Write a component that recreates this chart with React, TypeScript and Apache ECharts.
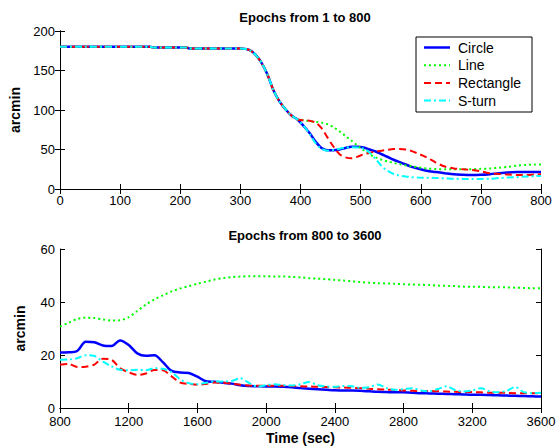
import React, { useEffect, useRef } from "react";
import * as echarts from "echarts";

const seriesNames = ["Circle", "Line", "Rectangle", "S-turn"];
const seriesColors = ["#0000ff", "#00ff00", "#ff0000", "#00ffff"];

const topTitle = "Epochs from 1 to 800";
const bottomTitle = "Epochs from 800 to 3600";

// Top panel: common part (all four series overlap)
const topCommonX = [0, 150, 155, 210, 215, 300, 315, 325, 335, 345, 355, 365, 375, 385, 395];
const topCommonY = [180, 180, 179, 179, 178, 178, 176, 170, 160, 145, 125, 111, 101, 93, 88];

// Top panel: diverging part
const topX = [405, 415, 425, 435, 445, 455, 465, 475, 485, 495, 505, 515, 525, 535, 545, 555, 565, 575, 585, 595, 610, 625, 640, 655, 670, 685, 700, 715, 730, 745, 760, 775, 790, 800];
const topCircle = [80, 71, 60, 52, 49, 49, 50, 52, 53.5, 53.5, 52.5, 50, 47.5, 44, 40.5, 37, 34, 31, 28, 26, 23, 21.5, 20, 18.6, 18, 17.7, 18, 18.8, 20, 21, 21.5, 21.5, 21.5, 21.5];
const topLine = [87, 86, 85, 84, 82, 78, 73, 67, 61, 55, 49, 44, 40, 37, 35, 33, 31.5, 30, 29, 27.5, 26, 25.3, 25, 25, 25, 25, 25.5, 26, 27, 28, 29.5, 30.5, 31, 31];
const topRect = [87, 86.5, 84, 77, 65, 53.5, 44, 40, 38.8, 41, 44, 46, 47.5, 48.5, 49.5, 50.5, 50.5, 50, 48, 45, 40, 33.5, 28.5, 26, 25, 24, 22.5, 20, 19, 18.3, 17.8, 17.8, 18.3, 18.6];
const topSturn = [80, 70, 58, 51, 48.5, 49.5, 51, 52.5, 53, 52.5, 51, 46, 38, 29, 23, 19, 17, 15.8, 15, 14.5, 14.3, 14, 13.5, 13, 12.8, 12.7, 12.7, 13, 13.8, 14.5, 15, 15.8, 16.3, 16.5];

// Bottom panel
const botX = [800, 850, 900, 950, 1000, 1050, 1100, 1150, 1200, 1250, 1300, 1350, 1400, 1450, 1500, 1550, 1600, 1650, 1700, 1750, 1800, 1850, 1900, 1950, 2000, 2050, 2100, 2150, 2200, 2250, 2300, 2350, 2400, 2450, 2500, 2550, 2600, 2650, 2700, 2750, 2800, 2850, 2900, 2950, 3000, 3050, 3100, 3150, 3200, 3250, 3300, 3350, 3400, 3450, 3500, 3550, 3600];
const botCircle = [20.9, 21, 21.5, 25, 24.8, 23.6, 23.4, 25.5, 23.8, 20.6, 19.7, 19.9, 17.2, 14, 13.4, 13.2, 11.8, 10.1, 9.9, 9.5, 9.2, 8.6, 8.3, 8.2, 8.1, 8.1, 8, 7.8, 7.5, 7.3, 7.1, 6.9, 6.7, 6.6, 6.6, 6.5, 6.3, 6.1, 6, 5.9, 5.9, 5.8, 5.6, 5.5, 5.4, 5.3, 5.2, 5.1, 5, 5, 4.9, 4.8, 4.7, 4.6, 4.5, 4.4, 4.3];
const botLine = [30.7, 32.2, 33.6, 34.1, 34, 33.4, 33, 33.1, 34.3, 36.6, 39, 41, 42.5, 44, 45.1, 46, 46.9, 47.7, 48.5, 49, 49.4, 49.6, 49.7, 49.7, 49.7, 49.6, 49.6, 49.5, 49.3, 49, 48.8, 48.6, 48.3, 48.1, 47.8, 47.5, 47.3, 47.1, 47, 46.9, 46.7, 46.6, 46.5, 46.4, 46.2, 46.1, 46, 45.8, 45.8, 45.7, 45.6, 45.6, 45.5, 45.4, 45.3, 45.2, 45.2];
const botRect = [16.3, 16.6, 15.5, 15.6, 16.4, 18.6, 18.2, 15, 13.5, 12.5, 13, 14.3, 14.2, 11.9, 9.6, 9.1, 8.8, 9.1, 9.6, 9.5, 9.2, 8.8, 8.5, 8.4, 8.4, 8.4, 8.4, 8.3, 8.2, 8.1, 8, 7.9, 7.8, 7.7, 7.6, 7.5, 7.3, 7.1, 6.9, 6.8, 6.6, 6.5, 6.4, 6.4, 6.3, 6.2, 6.1, 6, 6, 5.9, 5.8, 5.8, 5.7, 5.6, 5.6, 5.6, 5.6];
const botSturn = [18.2, 18.3, 18.8, 19.9, 19.6, 17.5, 15.7, 14.4, 14.2, 14.4, 14.2, 15, 14.8, 13.5, 10.8, 9.4, 9, 9.5, 10, 10, 10.2, 11.2, 9.5, 8.1, 8.6, 9, 8.6, 8.5, 9, 9.8, 8.6, 8.1, 8, 8.3, 8.2, 7.6, 7.8, 8.9, 7.5, 6.9, 7.1, 7.5, 6.6, 6.3, 7.2, 8.2, 6.8, 6.2, 6.6, 7.5, 6.3, 5.9, 6.5, 7.9, 6, 5.6, 5.8];

const lineStyles: any[] = [
  { width: 2.5, type: "solid" },
  { width: 2, type: [2, 3] },
  { width: 2, type: [7, 4] },
  { width: 2, type: [7, 3, 2, 3] },
];
const legendDash: any[] = [null, [2, 3], [7, 4], [7, 3, 2, 3]];

const FONT = "Liberation Sans, Arial, Helvetica, sans-serif";

export default function App() {
  const ref = useRef<HTMLDivElement>(null);
  useEffect(() => {
    if (!ref.current) return;
    const chart = echarts.init(ref.current, null, { renderer: "svg" });

    const topSeriesVals = [topCircle, topLine, topRect, topSturn];
    const botSeriesVals = [botCircle, botLine, botRect, botSturn];

    const series: any[] = [];
    seriesNames.forEach((name, i) => {
      const common = topCommonX.map((x, k) => [x, topCommonY[k]]);
      const rest = topX.map((x, k) => [x, topSeriesVals[i][k]]);
      series.push({
        name,
        type: "line",
        xAxisIndex: 0,
        yAxisIndex: 0,
        data: common.concat(rest),
        showSymbol: false,
        symbol: "none",
        smooth: 0.3,
        lineStyle: { color: seriesColors[i], ...lineStyles[i] },
        z: 2 + i,
      });
    });
    seriesNames.forEach((name, i) => {
      series.push({
        name,
        type: "line",
        xAxisIndex: 2,
        yAxisIndex: 2,
        data: botX.map((x, k) => [x, botSeriesVals[i][k]]),
        showSymbol: false,
        symbol: "none",
        smooth: 0.3,
        lineStyle: { color: seriesColors[i], ...lineStyles[i] },
        z: 2 + i,
      });
    });

    const axisCommon = {
      axisLine: { show: true, lineStyle: { color: "#000", width: 1 } },
      axisTick: { show: true, inside: true, length: 5, lineStyle: { color: "#000" } },
      splitLine: { show: false },
    };
    const labelStyle = {
      show: true,
      color: "#000",
      fontSize: 13,
      fontFamily: FONT,
      formatter: (v: number) => String(v),
    };
    const nameStyle = { fontSize: 14, fontWeight: "bold", color: "#000", fontFamily: FONT };
    const titleStyle = { fontSize: 13, fontWeight: "bold", color: "#000", fontFamily: FONT };

    const legendItems: any[] = [
      {
        type: "rect",
        shape: { x: 416, y: 37, width: 116, height: 75 },
        style: { fill: "#fff", stroke: "#000", lineWidth: 1 },
        z: 100,
      },
    ];
    seriesNames.forEach((name, i) => {
      const y = 47.5 + i * 17.7;
      legendItems.push({
        type: "line",
        shape: { x1: 424, y1: y, x2: 450, y2: y },
        style: {
          stroke: seriesColors[i],
          lineWidth: lineStyles[i].width,
          lineDash: legendDash[i],
        },
        z: 101,
      });
      legendItems.push({
        type: "text",
        x: 458,
        y: y,
        style: {
          text: name,
          fill: "#000",
          fontSize: 14,
          fontFamily: FONT,
          verticalAlign: "middle",
        },
        z: 101,
      });
    });

    chart.setOption({
      animation: false,
      backgroundColor: "#fff",
      title: [
        { text: topTitle, left: 300, top: 6, textAlign: "center", textStyle: titleStyle },
        { text: bottomTitle, left: 300, top: 224, textAlign: "center", textStyle: titleStyle },
      ],
      grid: [
        { left: 60, top: 31, width: 481, height: 158, containLabel: false },
        { left: 60, top: 249, width: 481, height: 159, containLabel: false },
      ],
      xAxis: [
        {
          type: "value", gridIndex: 0, min: 0, max: 800, interval: 100, position: "bottom",
          ...axisCommon, axisLabel: { ...labelStyle, margin: 5 },
        },
        {
          type: "value", gridIndex: 0, min: 0, max: 800, interval: 100, position: "top",
          ...axisCommon, axisLabel: { show: false },
        },
        {
          type: "value", gridIndex: 1, min: 800, max: 3600, interval: 400, position: "bottom",
          ...axisCommon, axisLabel: { ...labelStyle, margin: 7 },
          name: "Time (sec)", nameLocation: "middle", nameGap: 23,
          nameTextStyle: nameStyle,
        },
        {
          type: "value", gridIndex: 1, min: 800, max: 3600, interval: 400, position: "top",
          ...axisCommon, axisLabel: { show: false },
        },
      ],
      yAxis: [
        {
          type: "value", gridIndex: 0, min: 0, max: 200, interval: 50, position: "left",
          ...axisCommon, axisLabel: { ...labelStyle, margin: 5 },
          name: "arcmin", nameLocation: "middle", nameGap: 33, nameRotate: 90,
          nameTextStyle: nameStyle,
        },
        {
          type: "value", gridIndex: 0, min: 0, max: 200, interval: 50, position: "right",
          ...axisCommon, axisLabel: { show: false },
        },
        {
          type: "value", gridIndex: 1, min: 0, max: 60, interval: 20, position: "left",
          ...axisCommon, axisLabel: { ...labelStyle, margin: 5 },
          name: "arcmin", nameLocation: "middle", nameGap: 33, nameRotate: 90,
          nameTextStyle: nameStyle,
        },
        {
          type: "value", gridIndex: 1, min: 0, max: 60, interval: 20, position: "right",
          ...axisCommon, axisLabel: { show: false },
        },
      ],
      series,
      graphic: legendItems,
    });

    return () => chart.dispose();
  }, []);

  return (
    <div
      ref={ref}
      style={{ position: "fixed", left: 0, top: 0, width: 560, height: 448 }}
    />
  );
}
